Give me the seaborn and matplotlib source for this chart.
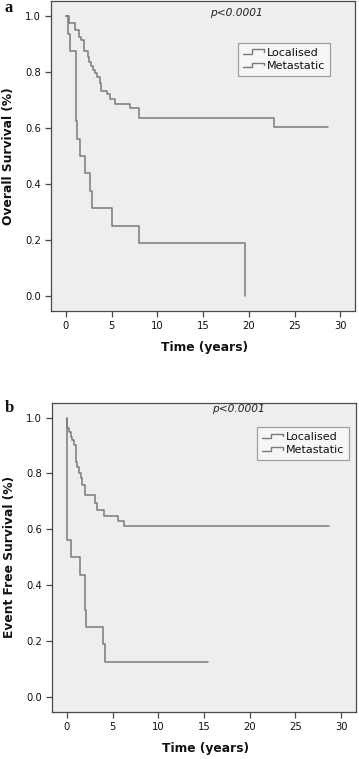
import numpy as np
import pandas as pd
import matplotlib
matplotlib.use("Agg")
import matplotlib.pyplot as plt
import seaborn as sns
from matplotlib.lines import Line2D
from matplotlib.legend_handler import HandlerBase

# ---------------- data ----------------
# Panel a: Overall survival
os_loc_time = [0, 0.33, 0.98, 1.42, 1.70, 1.97, 2.44, 2.55, 2.80, 2.98, 3.24, 3.46, 3.71,
               3.90, 4.45, 4.80, 5.35, 7.00, 8.00, 22.80, 28.65]
os_loc_surv = [1.0, 0.974, 0.950, 0.926, 0.914, 0.876, 0.855, 0.837, 0.822, 0.807, 0.795,
               0.783, 0.760, 0.732, 0.720, 0.702, 0.687, 0.670, 0.636, 0.602, 0.602]
os_met_time = [0, 0.25, 0.50, 1.10, 1.20, 1.57, 2.15, 2.66, 2.90, 5.00, 8.00, 19.55]
os_met_surv = [1.0, 0.9375, 0.875, 0.625, 0.5625, 0.5, 0.4375, 0.375, 0.3125, 0.25, 0.1875, 0.0]

# Panel b: Event free survival
efs_loc_time = [0, 0.07, 0.28, 0.43, 0.61, 0.80, 1.02, 1.16, 1.35, 1.53, 1.71, 2.00, 3.04,
                3.29, 4.12, 5.65, 6.30, 28.65]
efs_loc_surv = [1.0, 0.962, 0.950, 0.932, 0.920, 0.902, 0.842, 0.824, 0.800, 0.783, 0.759,
                0.722, 0.694, 0.668, 0.648, 0.630, 0.612, 0.612]
efs_met_time = [0, 0.02, 0.47, 1.49, 2.00, 2.08, 4.00, 4.23, 15.40]
efs_met_surv = [1.0, 0.5625, 0.5, 0.4375, 0.3125, 0.25, 0.1875, 0.125, 0.125]

groups = ["Localised", "Metastatic"]
panel_letters = ["a", "b"]
ylabels = ["Overall Survival (%)", "Event Free Survival (%)"]
xlabel = "Time (years)"
pvalue_text = "p<0.0001"
xticks = [0, 5, 10, 15, 20, 25, 30]
yticks = [0.0, 0.2, 0.4, 0.6, 0.8, 1.0]

LINE = "#7a7a7a"
BG = "#eeeeee"
SPINE = "#4a4a4a"


def make_df(lt, ls, mt, ms):
    a = pd.DataFrame({"time": lt, "surv": ls, "group": groups[0]})
    b = pd.DataFrame({"time": mt, "surv": ms, "group": groups[1]})
    return pd.concat([a, b], ignore_index=True)


data_a = make_df(os_loc_time, os_loc_surv, os_met_time, os_met_surv)
data_b = make_df(efs_loc_time, efs_loc_surv, efs_met_time, efs_met_surv)


class StepHandler(HandlerBase):
    def create_artists(self, legend, orig_handle, xdescent, ydescent,
                       width, height, fontsize, trans):
        x0 = -xdescent
        y0 = -ydescent
        xs = [x0, x0 + 0.42 * width, x0 + 0.42 * width, x0 + width, x0 + width]
        ys = [y0 + 0.22 * height, y0 + 0.22 * height, y0 + 0.78 * height,
              y0 + 0.78 * height, y0 + 0.45 * height]
        ln = Line2D(xs, ys, color=orig_handle.get_color(), lw=1.0, transform=trans)
        return [ln]


sns.set_theme(style="white")
plt.rcParams["font.family"] = ["DejaVu Sans"]

fig = plt.figure(figsize=(3.59, 7.59), dpi=100)
W, H = 359.0, 759.0
boxes = [
    (50.7, 1.0, 355.0, 311.0),
    (51.7, 402.7, 355.7, 711.7),
]
leg_anchor = [(0.918, 0.866), (0.979, 0.922)]
p_pos = [(236.7, 13.3), (238.0, 409.0)]
letter_pos = [(8.5, 11.5), (9.5, 412.5)]

for i, (df, box) in enumerate(zip([data_a, data_b], boxes)):
    l, t, r, b = box
    ax = fig.add_axes([l / W, 1 - b / H, (r - l) / W, (b - t) / H])
    ax.set_facecolor(BG)
    sns.lineplot(data=df, x="time", y="surv", hue="group",
                 palette=[LINE, LINE], estimator=None, sort=False,
                 drawstyle="steps-post", lw=1.1, legend=False, ax=ax)
    ax.set_xlim(-1.65, 31.6)
    ax.set_ylim(-0.0536, 1.0536)
    ax.set_xticks(xticks)
    ax.set_yticks(yticks)
    ax.set_yticklabels([f"{v:.1f}" for v in yticks])
    ax.tick_params(axis="both", direction="out", length=4.1, width=0.9,
                   color=SPINE, labelsize=7.2, labelcolor="#111111",
                   bottom=True, left=True)
    ax.tick_params(axis="x", pad=3.3)
    ax.tick_params(axis="y", pad=2.8)
    for s in ax.spines.values():
        s.set_visible(True)
        s.set_color(SPINE)
        s.set_linewidth(0.9)
    ax.set_xlabel(xlabel, fontsize=8.8, fontweight="bold", color="#111111")
    ax.set_ylabel(ylabels[i], fontsize=8.8, fontweight="bold", color="#111111")
    ax.xaxis.set_label_coords(0.506, -0.098)
    ax.yaxis.set_label_coords(-0.118, 0.5)

    handles = [Line2D([], [], color=LINE), Line2D([], [], color=LINE)]
    leg = ax.legend(handles, groups, loc="upper right",
                    bbox_to_anchor=leg_anchor[i], bbox_transform=ax.transAxes,
                    borderaxespad=0, fontsize=8, frameon=True, fancybox=False,
                    handlelength=1.9, handletextpad=0.25, labelspacing=0.3,
                    borderpad=0.45, handler_map={Line2D: StepHandler()})
    leg.get_frame().set_facecolor("#f9f9f9")
    leg.get_frame().set_edgecolor("#8a8a8a")
    leg.get_frame().set_linewidth(0.9)
    for txt in leg.get_texts():
        txt.set_color("#111111")

    px, py = p_pos[i]
    fig.text(px / W, 1 - py / H, pvalue_text, fontsize=7.7, style="italic",
             ha="center", va="center", color="#222222")
    lx, ly = letter_pos[i]
    fig.text(lx / W, 1 - ly / H, panel_letters[i], fontsize=12,
             fontweight="bold", family=["Liberation Serif", "DejaVu Serif"],
             ha="center", va="baseline", color="#111111")

fig.savefig("out.png", dpi=100, facecolor="white")
